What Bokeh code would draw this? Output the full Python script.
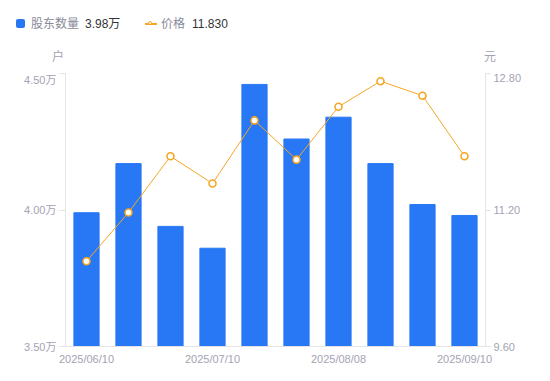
from bokeh.plotting import figure
from bokeh.layouts import column
from bokeh.models import Range1d, LinearAxis, FixedTicker, PrintfTickFormatter, Div
from bokeh.embed import file_html
from bokeh.resources import INLINE

dates = ["2025/06/10", "2025/06/20", "2025/06/30", "2025/07/10", "2025/07/18",
         "2025/07/31", "2025/08/08", "2025/08/20", "2025/08/29", "2025/09/10"]
holders = [3.99, 4.17, 3.94, 3.86, 4.46, 4.26, 4.34, 4.17, 4.02, 3.98]  # 万户
price = [10.60, 11.17, 11.83, 11.51, 12.25, 11.79, 12.41, 12.71, 12.54, 11.83]
shown_dates = ["2025/06/10", "2025/07/10", "2025/08/08", "2025/09/10"]
left_ticks = [3.5, 4.0, 4.5]
right_ticks = [9.6, 11.2, 12.8]

FONT = "Liberation Sans, Noto Sans CJK SC"
GRAY = "#a3a3b3"
LEG_GRAY = "#8a8a99"
DARK = "#333333"
AXIS = "#e3e3e8"
BLUE = "#2878f5"
ORANGE = "#f5a623"

xs = list(range(len(dates)))
W, HEAD = 550, 73

# ---------- header: legend + axis unit titles ----------
def span(left, top, text, color):
    return (f'<span style="position:absolute;left:{left}px;top:{top}px;font-size:12px;'
            f'line-height:16px;white-space:nowrap;color:{color};">{text}</span>')

html = (
    f'<div style="position:relative;width:{W}px;height:{HEAD}px;margin:0;padding:0;'
    f'font-family:\'Liberation Sans\',\'Noto Sans CJK SC\',sans-serif;">'
    f'<span style="position:absolute;left:16px;top:19px;width:9px;height:9px;'
    f'background:{BLUE};border-radius:2px;"></span>'
    + span(31, 16, "股东数量", LEG_GRAY)
    + span(85, 16, f"{holders[-1]:.2f}万", DARK)
    + f'<span style="position:absolute;left:145px;top:23px;width:12px;height:1.5px;'
      f'background:{ORANGE};"></span>'
    + f'<span style="position:absolute;left:147.5px;top:20.5px;width:4px;height:4px;'
      f'border:1.6px solid {ORANGE};border-radius:50%;background:white;"></span>'
    + span(161, 16, "价格", LEG_GRAY)
    + span(192, 16, f"{price[-1]:.3f}", DARK)
    + span(52, 49, "户", GRAY)
    + span(484, 49, "元", GRAY)
    + '</div>'
)
head = Div(text=html, width=W, height=HEAD, margin=0)

# ---------- main chart ----------
p = figure(width=W, height=381 - HEAD, x_range=Range1d(-0.5, len(dates) - 0.5),
           y_range=Range1d(3.5, 4.5), output_backend="svg", toolbar_location=None,
           min_border_left=65, min_border_right=65, min_border_top=0, min_border_bottom=35)
p.outline_line_color = None
p.xgrid.visible = False
p.ygrid.visible = False
p.extra_y_ranges = {"price": Range1d(9.6, 12.8)}

p.vbar(x=xs, top=holders, bottom=3.5, width=0.6, color=BLUE)
p.line(x=xs, y=price, y_range_name="price", color=ORANGE, line_width=1)
p.scatter(x=xs, y=price, y_range_name="price", size=7, fill_color="white",
          line_color=ORANGE, line_width=1.6)

def style(ax):
    ax.axis_line_color = AXIS
    ax.major_tick_line_color = AXIS
    ax.minor_tick_line_color = None
    ax.major_label_text_color = GRAY
    ax.major_label_text_font = FONT
    ax.major_label_text_font_size = "11px"

ly = p.yaxis[0]
ly.ticker = FixedTicker(ticks=left_ticks)
ly.formatter = PrintfTickFormatter(format="%.2f万")
ly.major_tick_out = 6
ly.major_tick_in = 0
ly.major_label_standoff = 3
style(ly)

ry = LinearAxis(y_range_name="price", ticker=FixedTicker(ticks=right_ticks),
                formatter=PrintfTickFormatter(format="%.2f"))
ry.major_tick_out = 5
ry.major_tick_in = 0
ry.major_label_standoff = 3
style(ry)
p.add_layout(ry, "right")

shown_idx = [dates.index(d) for d in shown_dates]
xa = p.xaxis[0]
style(xa)
xa.ticker = FixedTicker(ticks=shown_idx)
xa.major_label_overrides = {i: dates[i] for i in shown_idx}
xa.major_tick_line_color = None
xa.major_tick_out = 0
xa.major_tick_in = 0
xa.major_label_standoff = 6

layout = column(head, p, spacing=0)
open("out.html", "w").write(file_html(layout, INLINE))
